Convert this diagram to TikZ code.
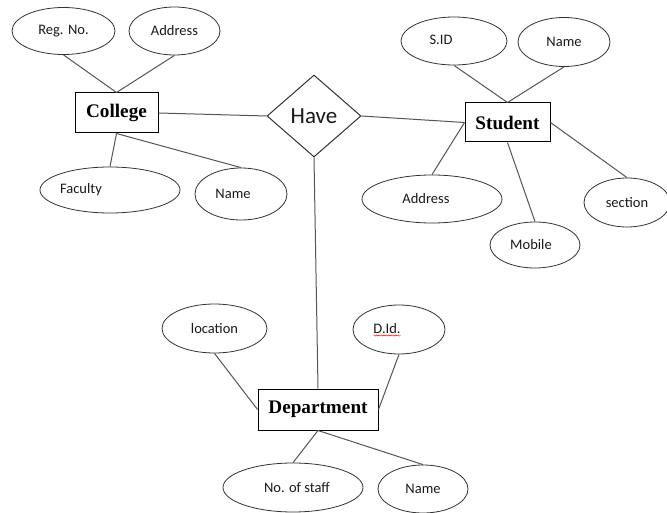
\documentclass[tikz,border=0pt]{standalone}
\usepackage{fontspec}
\setmainfont{Liberation Serif}
\newfontfamily\calib{Carlito}
\usetikzlibrary{shapes.geometric,decorations.pathmorphing}
\definecolor{linegray}{RGB}{85,85,85}
\definecolor{edgegray}{RGB}{50,50,50}
\definecolor{txt}{RGB}{25,25,25}
\tikzset{
  attr/.style={ellipse, draw=edgegray, line width=0.8pt, inner sep=0pt, font=\calib\fontsize{14.5}{16}\selectfont, text=txt},
  attrtext/.style={font=\calib\fontsize{14.5}{16}\selectfont, text=txt, inner sep=0pt},
  entity/.style={rectangle, draw=black, line width=1pt, inner sep=0pt, font=\bfseries\fontsize{19.2}{21}\selectfont, text=black},
  rel/.style={diamond, draw=edgegray, line width=1pt, inner sep=0pt, font=\calib\fontsize{23}{25}\selectfont, text=txt},
  conn/.style={draw=linegray, line width=1pt}
}
\begin{document}
\begin{tikzpicture}[x=1pt,y=-1pt]
\useasboundingbox (0,0) rectangle (667,513);
\clip (0,0) rectangle (667,513);
% College and attributes
\node[entity, minimum width=83pt, minimum height=40pt] (college) at (116.5,113) {College};
\node[attr, minimum width=103pt, minimum height=47pt] (reg) at (63.5,31) {Reg. No.};
\node[attr, minimum width=91pt, minimum height=48pt] (cadd) at (174.5,31) {Address};
\node[attr, minimum width=140pt, minimum height=46pt, label={[attrtext, name=facT, xshift=-29pt]center:Faculty}] (fac) at (110,190) {};
\node[attr, minimum width=92pt, minimum height=52pt, label={[attrtext, name=cnameT, xshift=-8pt]center:Name}] (cname) at (241,194) {};
% Relationship
\node[rel, minimum width=94pt, minimum height=82pt] (have) at (314,116) {Have};
% Student and attributes
\node[entity, minimum width=85pt, minimum height=39pt] (student) at (507.5,122.5) {Student};
\node[attr, minimum width=106pt, minimum height=48pt, label={[attrtext, name=sidT, xshift=-13pt, yshift=1pt]center:S.ID}] (sid) at (454,41) {};
\node[attr, minimum width=92pt, minimum height=49pt] (sname) at (564,42) {Name};
\node[attr, minimum width=140pt, minimum height=48pt, label={[attrtext, name=saddrT, xshift=-6pt]center:Address}] (saddr) at (432,199) {};
\node[attr, minimum width=90pt, minimum height=46pt, label={[attrtext, name=mobT, xshift=-4pt]center:Mobile}] (mobile) at (535,245) {};
\node[attr, minimum width=86pt, minimum height=49pt] (section) at (627,202.5) {section};
% Department and attributes
\node[entity, minimum width=120pt, minimum height=41pt] (dept) at (318,409.5) {Department};
\node[attr, minimum width=105pt, minimum height=49pt] (loc) at (214.5,328.5) {location};
\node[attr, minimum width=92pt, minimum height=49pt, label={[attrtext, name=didT, xshift=-12pt, yshift=1pt]center:D.Id.}] (did) at (399,329.5) {};
\node[attr, minimum width=140pt, minimum height=49pt, label={[attrtext, name=staffT, xshift=4pt]center:No. of staff}] (staff) at (293,487.5) {};
\node[attr, minimum width=90pt, minimum height=48pt] (dname) at (423,489) {Name};
% spell-check underline
\draw[red, line width=0.45pt, decorate, decoration={snake, amplitude=0.6pt, segment length=2.4pt}] ([xshift=-13.5pt,yshift=-7pt]didT.center) -- ([xshift=13.5pt,yshift=-7pt]didT.center);
% Connectors
\path[conn] (reg.south) -- (college.north);
\path[conn] (cadd.south) -- (college.north);
\path[conn] (college.south) -- (fac.north);
\path[conn] (college.south) -- (cname.north);
\path[conn] (college.east) -- (have.west);
\path[conn] (have.east) -- (student.west);
\path[conn] (have.south) -- (dept.north);
\path[conn] (sid.south) -- (student.north);
\path[conn] (sname.south) -- (student.north);
\path[conn] (saddr.north) -- (student.west);
\path[conn] (student.south) -- (mobile.north);
\path[conn] (student.east) -- (section.north);
\path[conn] (loc.south) -- (dept.west);
\path[conn] (did.south) -- (dept.east);
\path[conn] (dept.south) -- (staff.north);
\path[conn] (dept.south) -- (dname.north);
\end{tikzpicture}
\end{document}
